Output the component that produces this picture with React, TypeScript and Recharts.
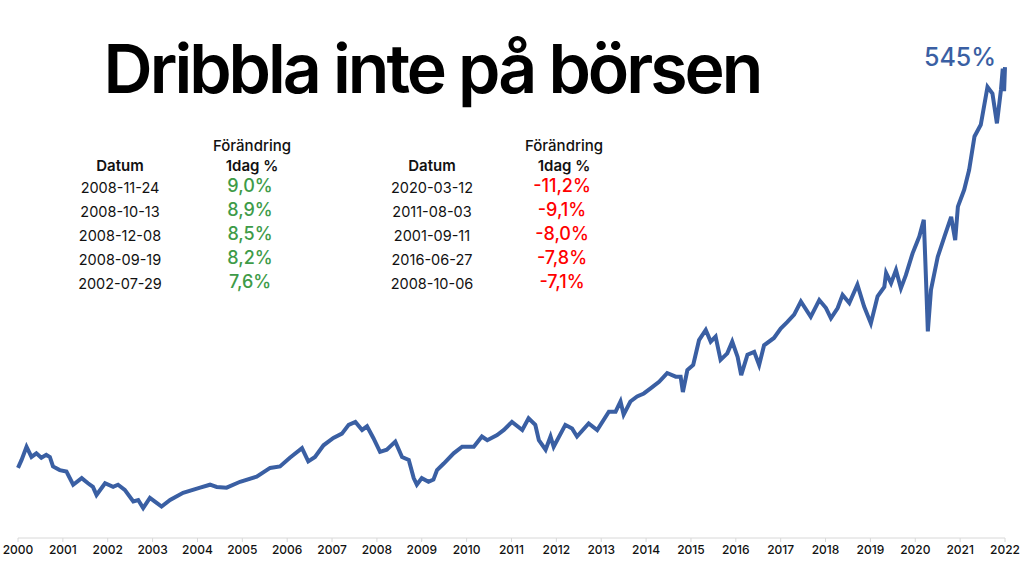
import React from 'react';
import { LineChart, Line, XAxis, YAxis } from 'recharts';

// index level (start ≈ 100)
const years = [
	2000.0, 2000.08, 2000.19, 2000.3, 2000.41, 2000.52, 2000.63, 2000.71, 2000.78, 2000.93,
	2001.08, 2001.23, 2001.42, 2001.56, 2001.67, 2001.75, 2001.94, 2002.12, 2002.23, 2002.38,
	2002.57, 2002.68, 2002.79, 2002.94, 2003.09, 2003.2, 2003.39, 2003.68, 2004.06, 2004.28,
	2004.43, 2004.65, 2004.95, 2005.32, 2005.62, 2005.84, 2006.06, 2006.33, 2006.47, 2006.62,
	2006.81, 2007.03, 2007.22, 2007.37, 2007.52, 2007.67, 2007.78, 2007.92, 2008.07, 2008.22,
	2008.41, 2008.56, 2008.71, 2008.82, 2008.89, 2009.0, 2009.15, 2009.26, 2009.34, 2009.49,
	2009.71, 2009.9, 2010.16, 2010.34, 2010.46, 2010.68, 2010.83, 2011.01, 2011.24, 2011.38,
	2011.53, 2011.61, 2011.76, 2011.87, 2011.94, 2012.2, 2012.35, 2012.46, 2012.72, 2012.91,
	2013.17, 2013.32, 2013.43, 2013.5, 2013.65, 2013.8, 2013.95, 2014.1, 2014.29, 2014.47,
	2014.66, 2014.77, 2014.82, 2014.92, 2015.05, 2015.18, 2015.33, 2015.44, 2015.55, 2015.66,
	2015.81, 2015.92, 2016.04, 2016.12, 2016.26, 2016.41, 2016.52, 2016.63, 2016.85, 2017.0,
	2017.15, 2017.3, 2017.45, 2017.67, 2017.86, 2018.01, 2018.12, 2018.27, 2018.38, 2018.53,
	2018.71, 2018.86, 2019.01, 2019.16, 2019.31, 2019.35, 2019.46, 2019.57, 2019.68, 2019.79,
	2019.94, 2020.09, 2020.19, 2020.24, 2020.28, 2020.35, 2020.5, 2020.65, 2020.8, 2020.89,
	2020.95, 2021.09, 2021.2, 2021.32, 2021.46, 2021.61, 2021.72, 2021.82, 2021.91, 2021.95,
	2021.98, 2022.0,
];

const index = [
	96, 107, 125, 111, 116, 110, 114, 111, 98, 93,
	91, 73, 82, 75, 70, 59, 75, 70, 73, 66,
	50, 52, 41, 55, 48, 43, 52, 62, 69, 73,
	70, 69, 77, 84, 96, 98, 110, 123, 105, 111,
	127, 137, 143, 155, 159, 148, 153, 137, 118, 121,
	132, 111, 107, 82, 73, 82, 77, 80, 93, 102,
	116, 125, 125, 139, 134, 141, 148, 159, 148, 164,
	155, 134, 121, 139, 125, 155, 150, 139, 157, 148,
	173, 173, 187, 169, 187, 194, 198, 205, 214, 226,
	221, 221, 200, 230, 237, 271, 285, 269, 276, 244,
	253, 269, 248, 223, 251, 255, 237, 264, 274, 287,
	296, 306, 324, 303, 326, 315, 301, 315, 333, 322,
	347, 317, 294, 331, 344, 363, 349, 367, 342, 360,
	390, 413, 436, 353, 283, 340, 385, 413, 440, 408,
	454, 477, 504, 550, 566, 618, 609, 568, 614, 643,
	612, 645,
];

const yearTicks = [
	2000, 2001, 2002, 2003, 2004, 2005, 2006, 2007, 2008, 2009, 2010,
	2011, 2012, 2013, 2014, 2015, 2016, 2017, 2018, 2019, 2020, 2021, 2022,
];

const upDates = ['2008-11-24', '2008-10-13', '2008-12-08', '2008-09-19', '2002-07-29'];
const upChanges = ['9,0%', '8,9%', '8,5%', '8,2%', '7,6%'];
const downDates = ['2020-03-12', '2011-08-03', '2001-09-11', '2016-06-27', '2008-10-06'];
const downChanges = ['-11,2%', '-9,1%', '-8,0%', '-7,8%', '-7,1%'];

const title = 'Dribbla inte på börsen';
const totalReturn = '545%';

const data = years.map((t, i) => ({ t, v: index[i] }));

const BLUE = '#3a5fa3';
const FONT = 'Inter, "Noto Sans", sans-serif';

const rowY = [193, 217, 241, 265, 289];

function ChangeTable({ x, dates, changes, color }: { x: number; dates: string[]; changes: string[]; color: string }) {
	return (
		<g fontFamily={FONT}>
			<text x={x + 132} y={151} textAnchor='middle' fontSize={15} fontWeight={500} fill='#111'>
				Förändring
			</text>
			<text x={x} y={171} textAnchor='middle' fontSize={15} fontWeight={600} fill='#111'>
				Datum
			</text>
			<text x={x + 132} y={171} textAnchor='middle' fontSize={15} fontWeight={600} fill='#111'>
				1dag %
			</text>
			{dates.map((d, i) => (
				<text key={d} x={x} y={rowY[i]} textAnchor='middle' fontSize={14.5} fill='#111'>
					{d}
				</text>
			))}
			{changes.map((c, i) => (
				<text key={c} x={x + 130} y={rowY[i] - 1} textAnchor='middle' fontSize={18} fontWeight={500} fill={color}>
					{c}
				</text>
			))}
		</g>
	);
}

export default function App() {
	return (
		<div style={{ position: 'absolute', left: 0, top: 0, width: 1024, height: 566, background: '#fff' }}>
			<LineChart width={1024} height={566} data={data} margin={{ top: 27, right: 19, left: 18, bottom: 0 }}>
				<XAxis
					dataKey='t'
					type='number'
					domain={[2000, 2022]}
					ticks={yearTicks}
					height={28}
					stroke='#d8d8d8'
					tickSize={4}
					tickMargin={3}
					tick={{ fill: '#111', fontSize: 12, fontWeight: 500, fontFamily: FONT }}
					interval={0}
				/>
				<YAxis hide domain={[0, 700]} />
				<Line
					type='linear'
					dataKey='v'
					stroke={BLUE}
					strokeWidth={4}
					dot={false}
					isAnimationActive={false}
				/>
			</LineChart>
			<svg width={1024} height={566} style={{ position: 'absolute', left: 0, top: 0, pointerEvents: 'none' }}>
				<text x={432} y={93} textAnchor='middle' fontFamily={FONT} fontSize={68} fontWeight={600} letterSpacing={-3} fill='#000'>
					{title}
				</text>
				<text x={960} y={66} textAnchor='middle' fontFamily={FONT} fontSize={25} fontWeight={500} fill={BLUE}>
					{totalReturn}
				</text>
				<ChangeTable x={120} dates={upDates} changes={upChanges} color='#3e9b48' />
				<ChangeTable x={432} dates={downDates} changes={downChanges} color='#ff0000' />
			</svg>
		</div>
	);
}
